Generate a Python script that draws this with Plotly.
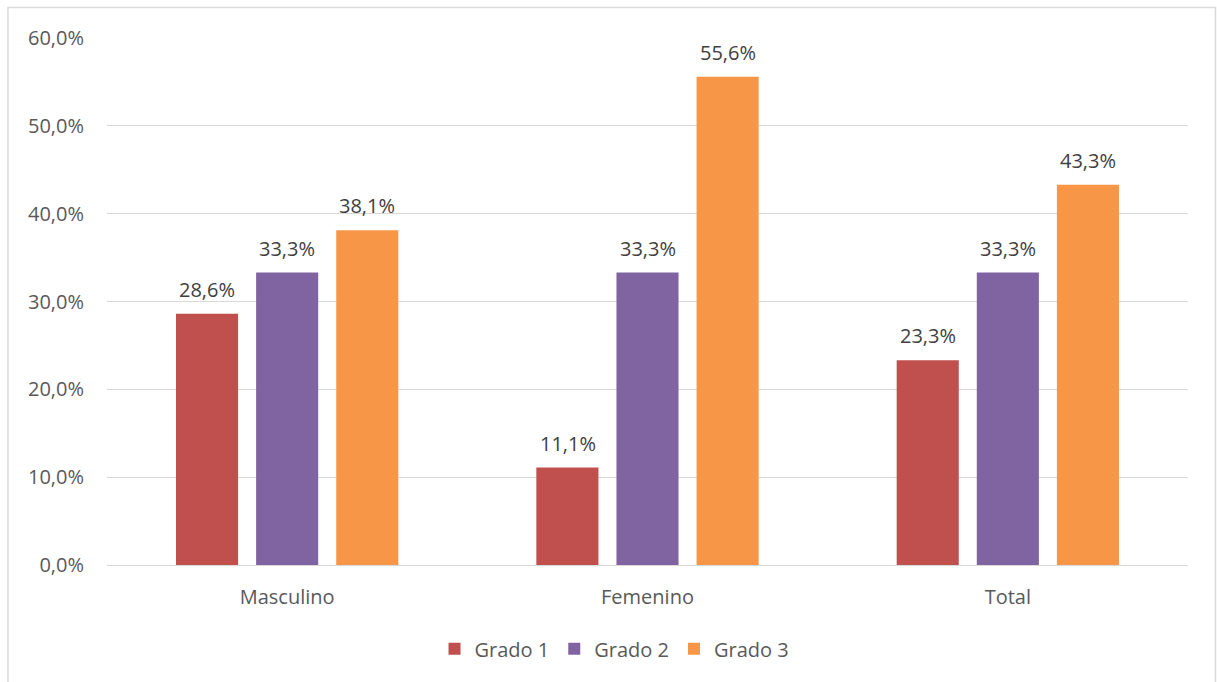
import plotly.graph_objects as go

categories = ["Masculino", "Femenino", "Total"]
series_names = ["Grado 1", "Grado 2", "Grado 3"]
grado1 = [28.6, 11.1, 23.3]
grado2 = [33.3, 33.3, 33.3]
grado3 = [38.1, 55.6, 43.3]
y_ticks = [0, 10, 20, 30, 40, 50, 60]

colors = ["#C0504D", "#8064A2", "#F79646"]
FONT = "Open Sans"

def fmt(v):
    return f"{v:.1f}".replace(".", ",") + "%"

fig = go.Figure()
annotations = []
all_series = [grado1, grado2, grado3]
for i, (name, vals, col) in enumerate(zip(series_names, all_series, colors)):
    fig.add_trace(go.Bar(
        x=categories, y=vals, name=name,
        marker=dict(color=col, line=dict(width=0)),
    ))
    for c, v in zip(categories, vals):
        annotations.append(dict(
            x=c, y=v, xref="x", yref="y", text=fmt(v), showarrow=False,
            yanchor="bottom", xanchor="center", xshift=(i - 1) * 80, yshift=9,
            font=dict(family=FONT, size=20, color="#404040"),
        ))

fig.update_layout(
    width=1217, height=682,
    margin=dict(l=107, r=29, t=38, b=117),
    paper_bgcolor="white", plot_bgcolor="white",
    barmode="group", bargap=0.333, bargroupgap=0.225,
    font=dict(family=FONT, size=20, color="#595959"),
    showlegend=True,
    legend=dict(orientation="h", x=0.4695, xanchor="center", y=-0.159, yanchor="middle",
                font=dict(family=FONT, size=20, color="#595959"),
                itemwidth=30, traceorder="normal"),
    xaxis=dict(showgrid=False, showline=False, ticks="", zeroline=False,
               tickfont=dict(family=FONT, size=20, color="#595959"),
               ticklabelstandoff=18),
    yaxis=dict(range=[0, 60], tickvals=y_ticks, ticktext=[fmt(t) for t in y_ticks],
               showgrid=True, gridcolor="#D9D9D9", gridwidth=1,
               zeroline=True, zerolinecolor="#D9D9D9", zerolinewidth=1,
               showline=False, ticks="",
               tickfont=dict(family=FONT, size=20, color="#595959"),
               ticklabelstandoff=22),
    annotations=annotations,
    shapes=[dict(type="rect", xref="paper", yref="paper",
                 x0=-0.0916, x1=1.0254, y0=-0.25, y1=1.0579,
                 line=dict(color="#D9D9D9", width=1.5), fillcolor="rgba(0,0,0,0)", layer="below")],
)

fig.write_html("out.html", config={"displayModeBar": False},
               post_script="document.body.style.margin='0';document.body.style.padding='0';")
